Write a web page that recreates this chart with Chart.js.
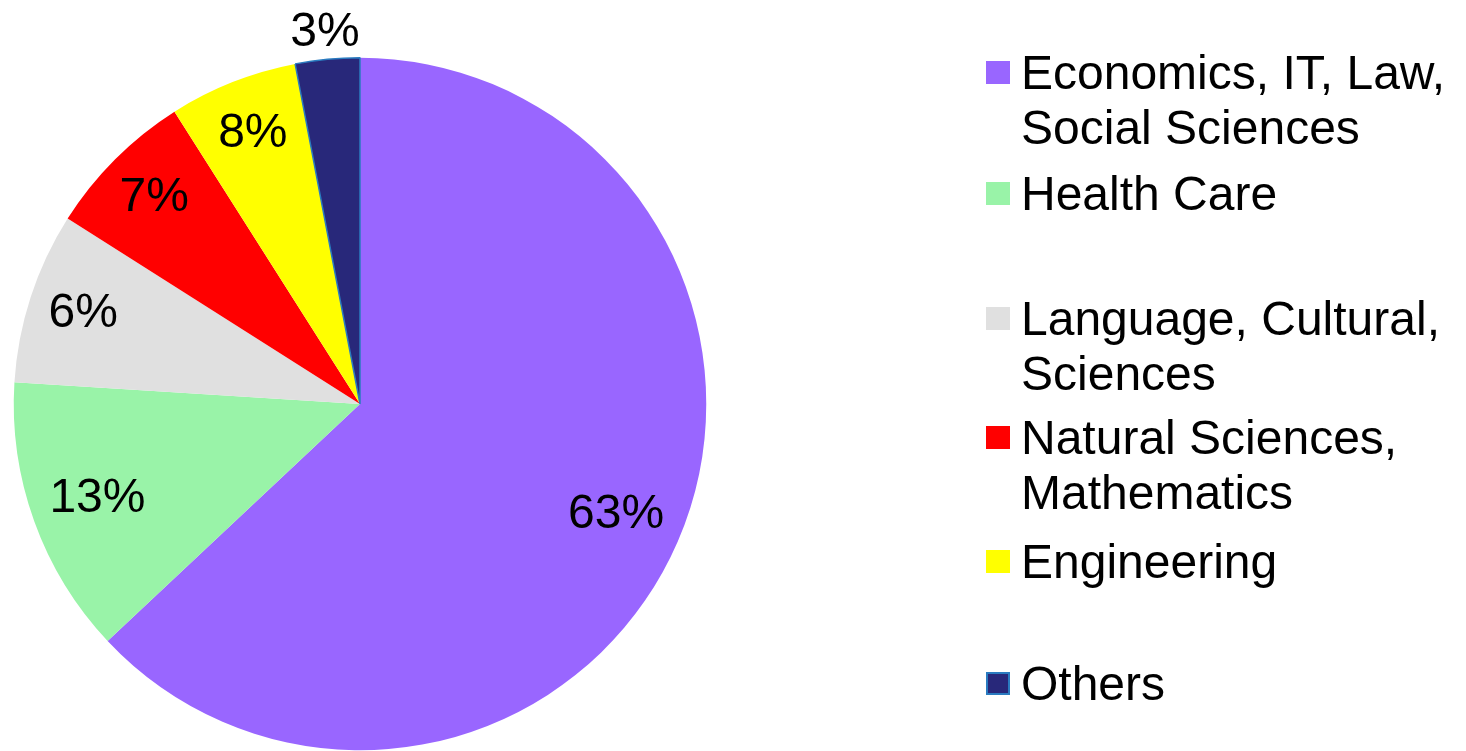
<!DOCTYPE html>
<html>
<head>
<meta charset="utf-8">
<script src="https://cdn.jsdelivr.net/npm/chart.js@4"></script>
<style>
  html, body { margin: 0; padding: 0; background: #fff; }
  body { width: 1466px; height: 751px; position: relative; overflow: hidden;
         font-family: "Liberation Sans", Arial, sans-serif; }
  #pieWrap { position: absolute; left: 0; top: 0; width: 720px; height: 751px; }
  #legend { position: absolute; left: 0; top: 0; width: 1466px; height: 751px; }
  .item { position: absolute; left: 986px; font-size: 48px; line-height: 55px; color: #000; }
  .box { position: absolute; left: 0; top: 16px; width: 24px; height: 23px; box-sizing: border-box; }
  .txt { position: absolute; left: 35px; white-space: nowrap; }
</style>
</head>
<body>
<div id="pieWrap"><canvas id="pie"></canvas></div>
<div id="legend"></div>
<script>
// Chart data
const categories = [
  ['Economics, IT, Law,', 'Social Sciences'],
  ['Health Care'],
  ['Language, Cultural,', 'Sciences'],
  ['Natural Sciences,', 'Mathematics'],
  ['Engineering'],
  ['Others']
];
const shares = [63, 13, 8, 7, 6, 3];            // slice sizes as drawn
const shareLabels = ['63%', '13%', '6%', '7%', '8%', '3%'];  // text printed on slices
const colors = ['#9966FF', '#99F3A8', '#E0E0E0', '#FF0000', '#FFFF00', '#28287A'];
const borderColors = ['#9966FF', '#99F3A8', '#E0E0E0', '#FF0000', '#FFFF00', '#2A7BC0'];
const borderWidths = [0, 0, 0, 0, 0, 1.5];

// legend item tops (px), uneven like the original
const legendTops = [45, 166, 291, 410, 534, 656];

// Percent labels on / outside slices
const sliceLabels = {
  id: 'sliceLabels',
  afterDatasetsDraw(chart) {
    const ctx = chart.ctx;
    const meta = chart.getDatasetMeta(0);
    ctx.save();
    ctx.font = '48px "Liberation Sans", Arial, sans-serif';
    ctx.fillStyle = '#000';
    ctx.textAlign = 'center';
    ctx.textBaseline = 'middle';
    meta.data.forEach((arc, i) => {
      const p = arc.getProps(['x', 'y', 'startAngle', 'endAngle', 'outerRadius'], true);
      const mid = (p.startAngle + p.endAngle) / 2;
      const w = ctx.measureText(shareLabels[i]).width;
      // wider labels sit a little further in
      const r = shares[i] < 5 ? p.outerRadius + 27 : p.outerRadius * 0.845 - (w - 66) * 0.45;
      ctx.fillText(shareLabels[i], p.x + Math.cos(mid) * r, p.y + Math.sin(mid) * r);
    });
    ctx.restore();
  }
};

new Chart(document.getElementById('pie'), {
  type: 'pie',
  data: {
    labels: categories.map(c => c.join(' ')),
    datasets: [{
      data: shares,
      backgroundColor: colors,
      borderColor: borderColors,
      borderWidth: borderWidths
    }]
  },
  options: {
    responsive: true,
    maintainAspectRatio: false,
    animation: false,
    layout: { padding: { top: 57, bottom: 0, left: 0, right: 0 } },
    plugins: { legend: { display: false }, tooltip: { enabled: false } }
  },
  plugins: [sliceLabels]
});

// Legend
const legend = document.getElementById('legend');
categories.forEach((lines, i) => {
  const item = document.createElement('div');
  item.className = 'item';
  item.style.top = legendTops[i] + 'px';
  const box = document.createElement('div');
  box.className = 'box';
  box.style.background = colors[i];
  if (borderWidths[i]) box.style.border = '2px solid ' + borderColors[i];
  const txt = document.createElement('div');
  txt.className = 'txt';
  txt.innerHTML = lines.join('<br>');
  item.appendChild(box);
  item.appendChild(txt);
  legend.appendChild(item);
});
</script>
</body>
</html>
